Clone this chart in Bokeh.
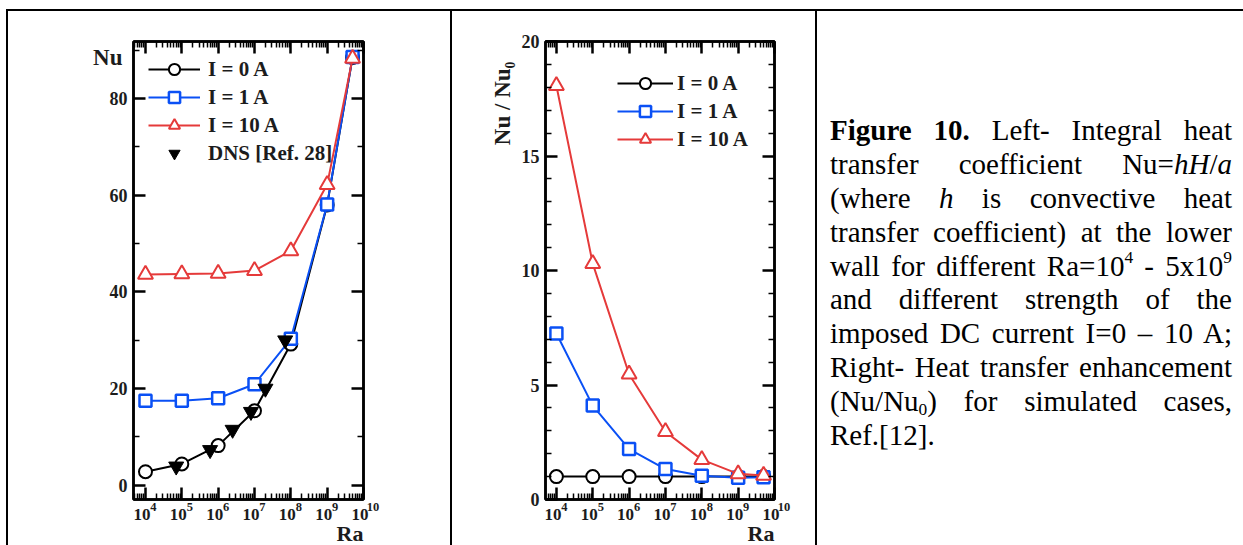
import math
from bokeh.plotting import figure
from bokeh.models import (Range1d, FixedTicker, LogAxis, LinearAxis, Legend,
                          LegendItem, Div, Title, CustomJSTickFormatter)
from bokeh.layouts import row, column
from bokeh.embed import file_html
from bokeh.resources import INLINE

# ---------------- data ----------------
ra = [1e4, 1e5, 1e6, 1e7, 1e8, 1e9, 5e9]
nu_0A = [2.8, 4.4, 8.2, 15.4, 29.2, 58.0, 88.5]
nu_1A = [17.5, 17.5, 18.0, 20.9, 30.3, 58.1, 88.6]
nu_10A = [43.6, 43.7, 43.8, 44.4, 48.5, 62.2, 88.3]
dns_ra = [7e4, 6e5, 2.5e6, 8e6, 2e7, 7e7]
dns_nu = [3.9, 7.3, 11.5, 15.2, 20.0, 30.0]

ratio_0A = [1.0, 1.0, 1.0, 1.0, 1.0, 1.0, 1.0]
ratio_1A = [7.25, 4.1, 2.2, 1.33, 1.04, 0.95, 0.97]
ratio_10A = [18.07, 10.3, 5.47, 2.96, 1.74, 1.12, 1.05]

x_ticks = [10**4, 10**5, 10**6, 10**7, 10**8, 10**9, 10**10]
x_tick_base = "10"
x_tick_exp = ["4", "5", "6", "7", "8", "9", "10"]
left_y_ticks = [0, 20, 40, 60, 80]
left_y_minor = [10, 30, 50, 70, 90]
right_y_ticks = [0, 5, 10, 15, 20]
right_y_minor = [v for v in range(1, 20) if v % 5]

series_labels = ["I = 0 A", "I = 1 A", "I = 10 A"]
dns_label = "DNS [Ref. 28]"
left_ylabel = "Nu"
right_ylabel = "Nu / Nu₀"
xlabel = "Ra"

FONT = "Liberation Serif"
TXT = "#1c1c1c"
BLACK = "#000000"
BLUE = "#0a50f5"
RED = "#e53a3a"

x_minor = [m * 10**k for k in range(3, 10) for m in range(2, 10)]


def style_axis(ax, size="18px", standoff=6):
    ax.axis_line_width = 2.5
    ax.axis_line_color = "black"
    ax.major_tick_in = 12
    ax.major_tick_out = 0
    ax.minor_tick_in = 6
    ax.minor_tick_out = 0
    ax.major_tick_line_width = 2.5
    ax.minor_tick_line_width = 1.5
    ax.major_tick_line_color = "black"
    ax.minor_tick_line_color = "black"
    ax.major_label_text_font = FONT
    ax.major_label_text_font_style = "bold"
    ax.major_label_text_color = TXT
    ax.major_label_standoff = standoff
    ax.major_label_text_font_size = size


def text_axis(cls, ticks, labels, size, standoff, **kw):
    """An axis that only carries text (no line, no ticks)."""
    ax = cls(ticker=FixedTicker(ticks=ticks),
             formatter=CustomJSTickFormatter(args=dict(labels=labels),
                                             code="return labels[index]"),
             axis_line_color=None, major_tick_in=0, major_tick_out=0,
             minor_tick_in=0, minor_tick_out=0,
             major_label_text_font=FONT, major_label_text_font_style="bold",
             major_label_text_color=TXT, major_label_text_font_size=size,
             major_label_standoff=standoff, **kw)
    return ax


def make_fig(width, xr, yr, yt, ymin, borders, frame_w):
    l, r, t, b = borders
    p = figure(width=width, height=534, x_axis_type="log",
               x_range=Range1d(*xr), y_range=Range1d(*yr),
               output_backend="svg", toolbar_location=None,
               min_border_left=l, min_border_right=r,
               min_border_top=t, min_border_bottom=b, margin=0)
    p.xgrid.visible = False
    p.ygrid.visible = False
    p.outline_line_color = "black"
    p.outline_line_width = 2.5
    xtick = FixedTicker(ticks=x_ticks, minor_ticks=x_minor)
    ytick = FixedTicker(ticks=yt, minor_ticks=ymin)
    bottom = p.xaxis[0]
    left = p.yaxis[0]
    bottom.ticker = xtick
    left.ticker = ytick
    style_axis(bottom, size="1px", standoff=0)
    bottom.major_label_overrides = {t: "" for t in x_ticks}
    style_axis(left)
    top = LogAxis(ticker=xtick, major_label_overrides={t: "" for t in x_ticks})
    style_axis(top, size="1px", standoff=0)
    p.add_layout(top, "above")
    right = LinearAxis(ticker=ytick, major_label_overrides={t: "" for t in yt})
    style_axis(right, size="1px", standoff=0)
    p.add_layout(right, "right")

    # x tick labels: "10" and a raised exponent, each on a text-only axis
    dec_per_px = (math.log10(xr[1]) - math.log10(xr[0])) / frame_w
    base_pos = [t * 10 ** (-3.5 * dec_per_px) for t in x_ticks]
    exp_pos = [t * 10 ** (8.0 * dec_per_px) for t in x_ticks[:-1]] + [x_ticks[-1]]
    exp_txt = x_tick_exp[:-1] + ["\u2003\u2002" + x_tick_exp[-1]]
    p.add_layout(text_axis(LogAxis, base_pos, [x_tick_base] * len(base_pos),
                           "17px", 9), "below")
    p.add_layout(text_axis(LogAxis, exp_pos, exp_txt, "12.5px", -23), "below")
    p.add_layout(Title(text=xlabel, align="right", standoff=-7,
                       text_font=FONT, text_font_style="bold",
                       text_font_size="22px", text_color=TXT), "below")
    return p


def add_series(p, x, y, color, marker, size, lw=2):
    ln = p.line(x, y, line_color=color, line_width=2)
    sc = p.scatter(x, y, marker=marker, size=size, line_color=color,
                   line_width=lw, fill_color="white")
    return [ln, sc]


def legend(items, **kw):
    lg = Legend(items=items, margin=0, padding=0, spacing=0, label_height=28,
                glyph_height=28, border_line_color=None,
                background_fill_alpha=0, label_text_font=FONT,
                label_text_font_style="bold", label_text_font_size="21px",
                label_text_color=TXT, **kw)
    return lg


# ---------------- left chart ----------------
xr1, yr1 = (10**3.67, 10**10.0), (-2.95, 91.8)
p1 = make_fig(442, xr1, yr1, left_y_ticks, left_y_minor, (125, 87, 30, 45), 230)
p1.add_layout(text_axis(LinearAxis, [88.5], [left_ylabel], "23px", -16), "left")

g0 = add_series(p1, ra, nu_0A, BLACK, "circle", 13)
g1 = add_series(p1, ra, nu_1A, BLUE, "square", 12, 2.5)
g2 = add_series(p1, ra, nu_10A, RED, "triangle", 15)
gd = p1.scatter(dns_ra, dns_nu, marker="inverted_triangle", size=15,
                line_color="black", fill_color="black")
lg1 = legend([LegendItem(label=series_labels[0], renderers=g0),
              LegendItem(label=series_labels[1], renderers=g1),
              LegendItem(label=series_labels[2], renderers=g2),
              LegendItem(label=dns_label, renderers=[gd])],
             location=(15, 332), glyph_width=52, label_standoff=8)
p1.add_layout(lg1)

# ---------------- right chart ----------------
xr2, yr2 = (10**3.70, 10**10.0), (0, 20)
p2 = make_fig(363, xr2, yr2, right_y_ticks, right_y_minor, (93, 41, 29, 46), 229)
p2.add_layout(text_axis(LinearAxis, [17.3], [right_ylabel], "23px", 3,
                        major_label_orientation="vertical"), "left")

h0 = add_series(p2, ra, ratio_0A, BLACK, "circle", 13)
h1 = add_series(p2, ra, ratio_1A, BLUE, "square", 12, 2.5)
h2 = add_series(p2, ra, ratio_10A, RED, "triangle", 15)
lg2 = legend([LegendItem(label=series_labels[0], renderers=h0),
              LegendItem(label=series_labels[1], renderers=h1),
              LegendItem(label=series_labels[2], renderers=h2)],
             location=(72, 346), glyph_width=56, label_standoff=4)
p2.add_layout(lg2)

# ---------------- caption ----------------
caption_lines = [
    "<b>Figure 10.</b> Left- Integral heat",
    "transfer coefficient Nu=<i>hH</i>/<i>a</i>",
    "(where <i>h</i> is convective heat",
    "transfer coefficient) at the lower",
    "wall for different Ra=10<sup>4</sup> - 5x10<sup>9</sup>",
    "and different strength of the",
    "imposed DC current I=0 \u2013 10 A;",
    "Right- Heat transfer enhancement",
    "(Nu/Nu<sub>0</sub>) for simulated cases,",
    "Ref.[12].",
]
sup_css = "<sup style=\"font-size:60%;line-height:0;vertical-align:0.75em\">"
sub_css = "<sub style=\"font-size:60%;line-height:0;vertical-align:-0.25em\">"
parts = []
for i, ln in enumerate(caption_lines):
    ln = ln.replace("<sup>", sup_css).replace("<sub>", sub_css)
    last = i == len(caption_lines) - 1
    align = "text-align:left;" if last else "text-align:justify;text-align-last:justify;"
    parts.append(f'<div style="height:33.9px;line-height:33.9px;{align}">{ln}</div>')
caption_html = ('<div style="font-family:\'Liberation Serif\',serif;font-size:29px;'
                'color:#000;margin-left:13px;padding-top:103px;width:402px;">'
                + "".join(parts) + "</div>")
caption = Div(text=caption_html, width=426, height=534, margin=0)


def bar(w, h):
    return Div(text="", width=w, height=h, margin=0,
               styles={"background-color": "#000000"})


def blank(w, h):
    return Div(text="", width=w, height=h, margin=0)


page = column(
    blank(1243, 9),
    row(blank(6, 2), bar(1237, 2), spacing=0, margin=0),
    row(blank(6, 534), bar(2, 534), p1, bar(2, 534), p2, bar(2, 534), caption,
        spacing=0, margin=0),
    spacing=0, margin=0,
)

open("out.html", "w").write(file_html(page, INLINE))
